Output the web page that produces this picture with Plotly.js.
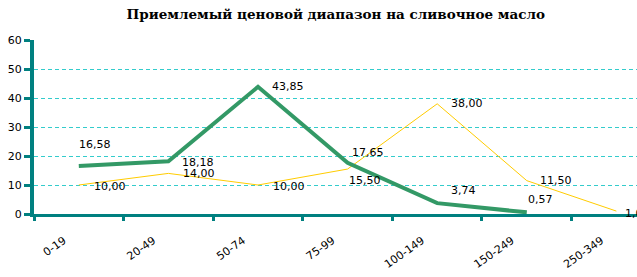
<!DOCTYPE html>
<html><head><meta charset="utf-8">
<script src="https://cdn.plot.ly/plotly-3.0.1.min.js"></script>
<style>html,body{margin:0;padding:0;background:#fff;overflow:hidden}</style>
</head><body><div id="chart" style="width:637px;height:277px"></div>
<script>
const categories = ["0-19","20-49","50-74","75-99","100-149","150-249","250-349"];
const greenValues = [16.58, 18.18, 43.85, 17.65, 3.74, 0.57];
const yellowValues = [10.00, 14.00, 10.00, 15.50, 38.00, 11.50, 1.00];
const yTicks = [0,10,20,30,40,50,60];
const titleText = "Приемлемый ценовой диапазон на сливочное масло";

const fmt = v => v.toFixed(2).replace('.', ',');
const labelFont = {family: "DejaVu Sans, Verdana, sans-serif", size: 11, color: "#000"};

// label offsets [xshift, yshift] per point
const greenOffsets = [[-2,21],[12,-1],[12,0],[2,10],[12,13],[-1,13]];
const yellowOffsets = [[13,-1],[13,0],[13,-1],[-1,-11],[12,0],[11,0],[7,-2]];

const annotations = [];
greenValues.forEach((v,i)=>annotations.push({x: categories[i], y: v, text: fmt(v), showarrow:false,
  xanchor: "left", yanchor:"middle", xshift: greenOffsets[i][0], yshift: greenOffsets[i][1], font: labelFont}));
yellowValues.forEach((v,i)=>annotations.push({x: categories[i], y: v, text: fmt(v), showarrow:false,
  xanchor: "left", yanchor:"middle", xshift: yellowOffsets[i][0], yshift: yellowOffsets[i][1], font: labelFont}));

const traces = [
  {x: categories.slice(0, yellowValues.length), y: yellowValues, type:"scatter", mode:"lines",
   line:{color:"#FFCC00", width:1}, hoverinfo:"skip", cliponaxis:false},
  {x: categories.slice(0, greenValues.length), y: greenValues, type:"scatter", mode:"lines",
   line:{color:"#339966", width:4}, hoverinfo:"skip", cliponaxis:false}
];

const layout = {
  width: 637, height: 277,
  margin: {l:34, r:0, t:40, b:63},
  paper_bgcolor:"#fff", plot_bgcolor:"#fff",
  showlegend:false,
  title: {text: titleText, x: 0.527, xanchor:"center", y: 0.95, yanchor:"middle",
    font:{family:"DejaVu Serif, serif", size:13.5, color:"#000", weight:"bold"}},
  xaxis: {type:"category", categoryorder:"array", categoryarray: categories,
    range:[-0.5, 6.23], showgrid:false, zeroline:false,
    showline:true, linecolor:"#008080", linewidth:3,
    ticks:"outside", tickson:"boundaries", ticklen:4, tickwidth:3, tickcolor:"#008080",
    tickangle:-35, ticklabelstandoff:13, ticklabelshift:-15,
    tickfont:{family:"DejaVu Sans, Verdana, sans-serif", size:11, color:"#000"}, fixedrange:true},
  yaxis: {range:[0,60], tickvals: yTicks, ticktext: yTicks.map(String),
    showgrid:true, gridcolor:"#33CCCC", griddash:"4px,3px", gridwidth:1, zeroline:false,
    showline:true, linecolor:"#008080", linewidth:4,
    ticks:"outside", ticklen:6, tickwidth:3, tickcolor:"#008080",
    tickfont:{family:"DejaVu Sans, Verdana, sans-serif", size:11, color:"#000"}, fixedrange:true},
  annotations: annotations
};

Plotly.newPlot("chart", traces, layout, {displayModeBar:false, staticPlot:true});
</script></body></html>
